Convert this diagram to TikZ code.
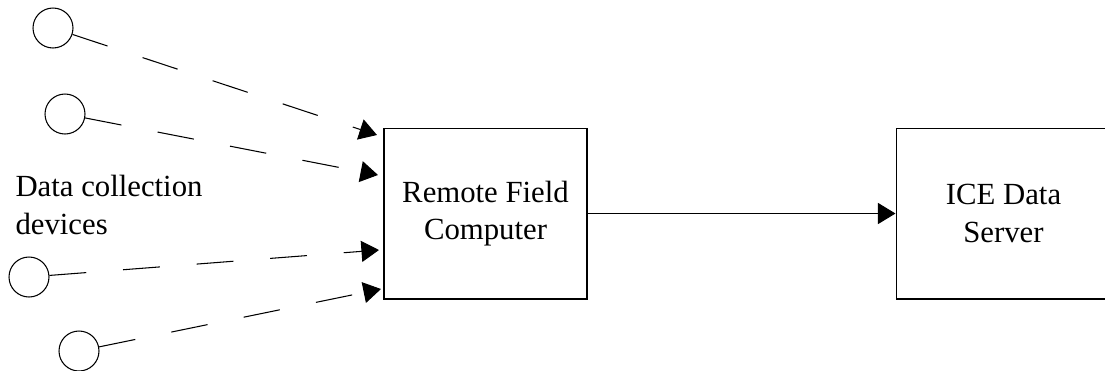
\documentclass[tikz,border=0pt]{standalone}
\usepackage{fontspec}
\setmainfont{Liberation Serif}
\usetikzlibrary{arrows.meta,positioning}
\tikzstyle{device} = [draw, circle, minimum size=0.8cm, inner sep=0pt, line width=0.6pt]
\tikzstyle{unit} = [draw, rectangle, line width=0.6pt, minimum height=3.42cm, align=center, font=\fontsize{17.5}{21.5}\selectfont]
\tikzstyle{feed} = [->, >={Triangle[length=10pt,width=12pt]}, line width=0.6pt, dash pattern=on 21pt off 21pt]
\tikzstyle{link} = [->, >={Triangle[length=10pt,width=12pt]}, line width=0.6pt]

\begin{document}
\begin{tikzpicture}[x=0.02cm, y=-0.02cm]
\useasboundingbox (0,0) rectangle (1105,370);

% Computers
\node[unit, minimum width=4.06cm] (rfc) at (485.5,213.5) {Remote Field\\Computer};
\node[unit, minimum width=4.3cm] (ice) at (1003.5,213.5) {ICE Data\\Server};

% Data collection devices
\node[device] (dev1) at (53,28) {};
\node[device] (dev2) at (65,114) {};
\node[device] (dev3) at (29,277) {};
\node[device] (dev4) at (79,351) {};
\node[align=left, inner sep=0pt, font=\fontsize{17.5}{21.5}\selectfont] (lbl) at (109,205) {Data collection\\devices};

% Inputs
\coordinate (in1) at (377,135);
\coordinate (in2) at (378,175);
\coordinate (in3) at (379,250);
\coordinate (in4) at (381,289);

\draw[feed] (dev1) -- (in1);
\draw[feed] (dev2) -- (in2);
\draw[feed] (dev3) -- (in3);
\draw[feed] (dev4) -- (in4);

\draw[link] (rfc) -- (ice);
\end{tikzpicture}
\end{document}
